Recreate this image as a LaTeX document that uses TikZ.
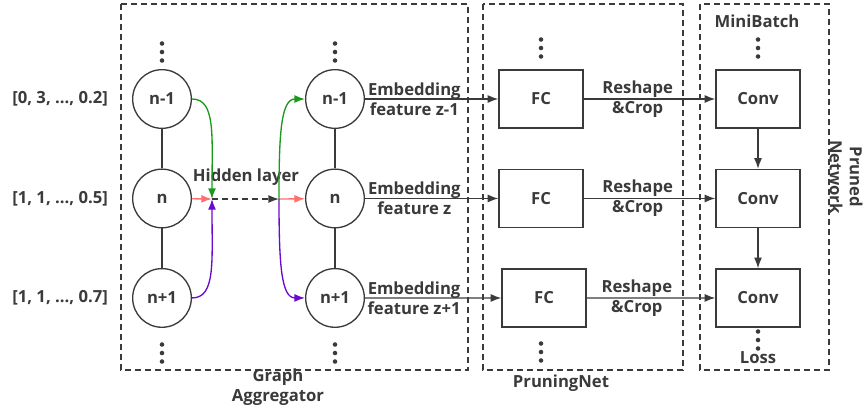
\documentclass[tikz,border=0pt]{standalone}
\usepackage{fontspec}
\setmainfont{Open Sans}
\usetikzlibrary{shapes, arrows.meta, positioning}
\definecolor{ink}{HTML}{3A3A3A}
\definecolor{gline}{HTML}{1A9A1A}
\definecolor{pline}{HTML}{6A0AD0}
\definecolor{rline}{HTML}{FF6F6F}
\tikzstyle{gnode} = [circle, draw, minimum size=44pt, inner sep=0pt, text centered]
\tikzstyle{fcbox} = [rectangle, draw, minimum width=63pt, minimum height=43.5pt, text centered]
\tikzstyle{group} = [draw, dash pattern=on 4.5pt off 3pt]
\tikzstyle{line} = [draw, -{Latex[length=8pt, width=6pt]}]

\begin{document}
\begin{tikzpicture}[x=0.75pt, y=-0.75pt, node distance=74.6pt, color=ink, line width=1pt,
    font=\bfseries\fontsize{12.5}{15}\selectfont]
    \useasboundingbox (0,0) rectangle (864,412);

    % dashed groups
    \draw[group] (121,4) rectangle (468,370);
    \draw[group] (483,4) rectangle (683,370);
    \draw[group] (700,4) rectangle (829,370);

    % graph
    \node[gnode] (a1) at (162,99) {n-1};
    \node[gnode, below of=a1] (a2) {n};
    \node[gnode, below of=a2] (a3) {n+1};
    \node[gnode] (b1) at (335,99) {n-1};
    \node[gnode, below of=b1] (b2) {n};
    \node[gnode, below of=b2] (b3) {n+1};

    \node[anchor=east] (v1) at (113,99) {[0, 3, …, 0.2]};
    \node[anchor=east] (v2) at (113,199) {[1, 1, …, 0.5]};
    \node[anchor=east] (v3) at (113,298) {[1, 1, …, 0.7]};

    % pruning net and pruned network
    \node[fcbox] (f1) at (541,99) {FC};
    \node[fcbox, below of=f1] (f2) {FC};
    \node[fcbox] (f3) at (544,298) {FC};
    \node[fcbox] (c1) at (758,99) {Conv};
    \node[fcbox, below of=c1] (c2) {Conv};
    \node[fcbox, below of=c2] (c3) {Conv};

    \coordinate (hin) at (212,199);
    \coordinate (hout) at (279,199);

    \node (hidden) at (246,177) {Hidden layer};
    \node[align=center] (ga) at (278,387) {Graph\\Aggregator};
    \node (pn) at (561,383) {PruningNet};
    \node (mb) at (757,21) {MiniBatch};
    \node (loss) at (758,358) {Loss};
    \node[align=center, rotate=-90] (pr) at (846,177) {Pruned\\Network};

    \foreach \x/\y in {162/52, 162/353, 335/52, 335/353, 541/48, 541/352, 758/48, 758/340}
        \foreach \d in {-8.5,0,8.5}
            \fill (\x,\y+\d) circle (1.7pt);

    \draw (a1) -- (a2);
    \draw (a2) -- (a3);
    \draw (b1) -- (b2);
    \draw (b2) -- (b3);

    \path[line, draw=rline] (a2) -- (hin);
    \path[line, draw=gline] (a1) to[out=0, in=90, out looseness=0.6, in looseness=1.6] (hin);
    \path[line, draw=pline] (a3) to[out=0, in=-90, out looseness=0.6, in looseness=1.6] (hin);
    \path[line, dash pattern=on 4.5pt off 3pt] (hin) -- (hout);
    \path[line, draw=rline] (hout) -- (b2);
    \path[line, draw=gline] (hout) to[out=90, in=180, out looseness=1.6, in looseness=0.6] (b1);
    \path[line, draw=pline] (hout) to[out=-90, in=180, out looseness=1.6, in looseness=0.6] (b3);

    \path[line] (b1) -- node[pos=0.37, align=center] {Embedding\\feature z-1} (f1);
    \path[line] (b2) -- node[pos=0.37, align=center] {Embedding\\feature z} (f2);
    \path[line] (b3) -- node[pos=0.36, align=center] {Embedding\\feature z+1} (f3);

    \path[line] (f1) -- node[pos=0.41, align=center] {Reshape\\\&Crop} (c1);
    \path[line] (f2) -- node[pos=0.41, align=center] {Reshape\\\&Crop} (c2);
    \path[line] (f3) -- node[pos=0.39, align=center] {Reshape\\\&Crop} (c3);

    \path[line] (c1) -- (c2);
    \path[line] (c2) -- (c3);
\end{tikzpicture}
\end{document}
